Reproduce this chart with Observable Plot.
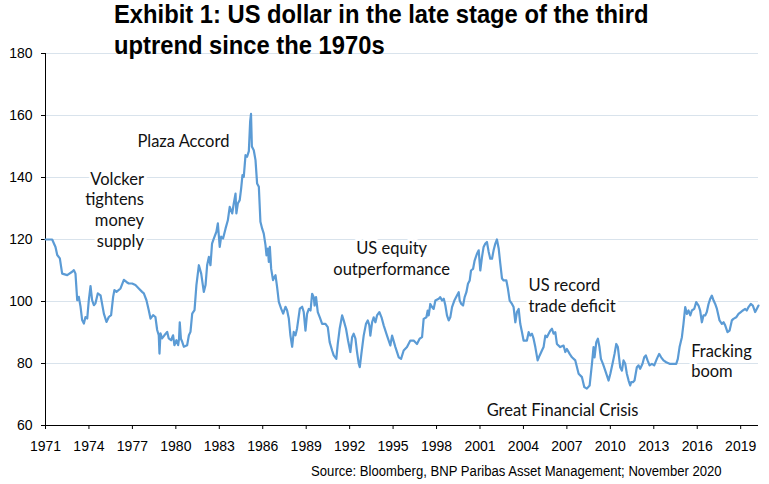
<!DOCTYPE html>
<html><head><meta charset="utf-8">
<script src="https://cdn.jsdelivr.net/npm/d3@7"></script>
<script src="https://cdn.jsdelivr.net/npm/@observablehq/plot@0.6"></script>
<style>
body{margin:0;background:#fff;}
#wrap{position:relative;width:769px;height:484px;overflow:hidden;background:#fff;}
#title{position:absolute;left:114px;top:-1px;font-family:"Liberation Sans",Arial,sans-serif;font-weight:bold;font-size:25px;line-height:31px;color:#000;transform:scaleX(0.95);transform-origin:0 0;white-space:nowrap;}
#caption{position:absolute;right:47px;top:463px;font-family:"Liberation Sans",Arial,sans-serif;font-size:14px;line-height:17px;color:#000;white-space:nowrap;transform:scaleX(0.936);transform-origin:100% 0;}
</style></head>
<body>
<div id="wrap">
  <div id="chart"></div>
  <div id="title">Exhibit 1: US dollar in the late stage of the third<br>uptrend since the 1970s</div>
  <div id="caption">Source: Bloomberg, BNP Paribas Asset Management; November 2020</div>
</div>
<script>
// ---- data ----
const years = [
  1971.00,1971.46,1971.69,1971.81,1971.99,1972.15,1972.50,1972.84,1972.96,1973.07,
  1973.19,1973.30,1973.42,1973.53,1973.65,1973.76,1973.88,1973.99,1974.11,1974.22,
  1974.34,1974.45,1974.61,1974.80,1975.03,1975.21,1975.37,1975.53,1975.67,1975.76,
  1975.90,1976.18,1976.41,1976.59,1976.75,1976.98,1977.21,1977.44,1977.67,1977.79,
  1977.97,1978.13,1978.25,1978.43,1978.59,1978.71,1978.82,1978.87,1978.94,1979.05,
  1979.21,1979.40,1979.51,1979.67,1979.81,1979.90,1980.04,1980.16,1980.22,1980.27,
  1980.35,1980.44,1980.55,1980.78,1980.90,1981.01,1981.13,1981.29,1981.42,1981.59,
  1981.75,1981.93,1982.05,1982.16,1982.28,1982.39,1982.50,1982.62,1982.80,1982.90,
  1983.03,1983.13,1983.26,1983.43,1983.59,1983.72,1983.89,1984.00,1984.12,1984.18,
  1984.28,1984.41,1984.51,1984.60,1984.69,1984.81,1984.92,1985.04,1985.13,1985.19,
  1985.25,1985.38,1985.50,1985.61,1985.73,1985.84,1985.96,1986.07,1986.19,1986.26,
  1986.35,1986.42,1986.49,1986.58,1986.71,1986.88,1986.99,1987.11,1987.27,1987.41,
  1987.57,1987.68,1987.80,1987.91,1988.03,1988.14,1988.26,1988.37,1988.56,1988.72,
  1988.83,1988.95,1989.06,1989.18,1989.30,1989.41,1989.52,1989.58,1989.68,1989.80,
  1989.94,1990.10,1990.33,1990.49,1990.62,1990.79,1990.90,1991.08,1991.18,1991.31,
  1991.48,1991.59,1991.75,1991.89,1992.05,1992.17,1992.28,1992.40,1992.51,1992.63,
  1992.70,1992.81,1992.97,1993.13,1993.25,1993.36,1993.43,1993.55,1993.66,1993.78,
  1993.89,1994.05,1994.20,1994.35,1994.58,1994.81,1994.93,1995.16,1995.39,1995.55,
  1995.73,1995.96,1996.19,1996.42,1996.65,1996.83,1997.00,1997.11,1997.30,1997.39,
  1997.46,1997.57,1997.69,1997.80,1997.92,1998.15,1998.26,1998.38,1998.50,1998.61,
  1998.72,1998.84,1998.95,1999.07,1999.23,1999.41,1999.53,1999.60,1999.71,1999.83,
  1999.94,2000.06,2000.17,2000.29,2000.38,2000.52,2000.63,2000.79,2000.91,2001.02,
  2001.14,2001.25,2001.37,2001.48,2001.60,2001.71,2001.83,2001.94,2002.06,2002.17,
  2002.29,2002.40,2002.52,2002.63,2002.82,2002.93,2003.05,2003.21,2003.32,2003.44,
  2003.55,2003.67,2003.78,2003.90,2004.01,2004.24,2004.36,2004.47,2004.59,2004.70,
  2004.82,2004.98,2005.12,2005.23,2005.39,2005.51,2005.62,2005.74,2005.85,2005.97,
  2006.08,2006.20,2006.31,2006.54,2006.77,2006.89,2007.00,2007.19,2007.35,2007.58,
  2007.81,2008.04,2008.20,2008.38,2008.57,2008.73,2008.84,2008.91,2009.03,2009.14,
  2009.25,2009.35,2009.49,2009.65,2009.88,2010.00,2010.15,2010.29,2010.41,2010.52,
  2010.68,2010.80,2010.91,2011.03,2011.14,2011.26,2011.37,2011.44,2011.56,2011.67,
  2011.83,2011.95,2012.06,2012.22,2012.34,2012.45,2012.57,2012.71,2012.87,2013.03,
  2013.21,2013.37,2013.51,2013.67,2013.86,2014.09,2014.32,2014.55,2014.66,2014.78,
  2014.94,2015.05,2015.17,2015.29,2015.40,2015.52,2015.63,2015.79,2015.93,2016.09,
  2016.20,2016.32,2016.43,2016.55,2016.66,2016.78,2016.90,2017.01,2017.13,2017.24,
  2017.36,2017.54,2017.70,2017.82,2017.93,2018.09,2018.23,2018.39,2018.50,2018.69,
  2018.85,2019.01,2019.15,2019.31,2019.42,2019.54,2019.70,2019.84,2020.00,2020.11,
  2020.23
];
const values = [
  120.0,120.0,117.6,115.0,113.9,109.0,108.5,109.6,110.1,109.0,
  100.4,101.5,98.3,94.0,92.9,95.0,94.5,100.4,105.0,100.4,
  98.8,99.4,102.6,102.0,96.1,93.4,95.0,95.6,101.5,103.7,
  103.1,104.2,107.0,106.3,105.8,105.8,105.3,104.2,103.1,102.6,
  100.4,97.2,94.5,95.6,95.0,90.8,89.1,83.2,89.7,88.1,
  89.1,90.2,88.1,87.5,89.1,85.9,87.5,85.9,88.0,93.3,
  88.0,87.0,85.4,85.9,89.1,90.2,96.1,97.2,105.3,111.7,
  109.0,103.1,105.3,111.7,114.4,111.7,118.7,120.3,122.5,125.2,
  117.6,120.9,120.3,123.5,126.2,130.5,128.4,131.6,134.8,128.4,
  131.6,132.7,136.5,140.8,140.2,147.2,146.7,148.5,158.0,160.5,
  150.0,148.8,145.6,138.1,137.0,125.7,123.5,121.9,118.2,114.9,
  117.1,112.8,117.6,110.6,106.9,108.5,104.7,99.9,97.7,96.1,
  98.3,97.2,94.5,89.1,85.4,90.2,89.1,91.3,97.7,98.3,
  96.6,90.6,96.0,97.6,97.1,102.5,101.4,98.7,101.4,96.6,
  94.9,92.8,92.8,91.7,86.9,84.2,82.6,81.5,86.3,91.2,
  95.5,93.9,91.2,87.4,83.7,88.5,89.6,88.0,83.7,79.9,
  78.8,83.1,89.0,92.8,93.9,92.3,89.0,93.3,94.9,93.3,
  95.5,96.6,94.9,92.3,89.0,85.8,89.0,85.3,82.0,81.5,
  84.2,85.3,87.4,87.4,86.3,88.0,88.5,94.4,94.9,97.1,
  95.5,99.2,98.2,97.6,100.3,100.9,101.4,100.3,100.9,98.7,
  95.5,93.9,94.9,98.2,100.3,101.9,103.0,100.3,99.2,98.7,
  101.4,103.0,105.7,106.8,110.0,110.5,113.2,115.4,116.5,110.0,
  114.4,117.6,118.7,119.2,116.0,113.8,113.8,116.5,118.7,120.0,
  117.1,112.3,107.4,106.8,106.8,104.1,100.3,99.2,98.2,93.3,
  96.6,97.6,92.8,90.1,87.4,87.4,90.1,89.0,89.6,88.0,
  85.3,81.0,82.6,83.7,85.3,89.0,88.5,89.6,90.6,91.2,
  89.6,90.1,86.3,85.3,85.8,83.7,84.7,83.1,82.0,81.0,
  76.7,75.6,72.4,71.9,72.9,79.9,85.3,82.0,86.9,88.0,
  85.3,81.5,79.9,77.7,74.5,76.7,79.9,83.1,86.3,85.3,
  78.8,77.7,81.0,79.9,76.7,74.5,72.9,74.0,74.0,74.5,
  78.8,79.4,78.3,79.9,82.0,82.6,81.0,79.4,79.9,79.4,
  81.5,83.1,82.0,81.0,80.4,79.9,79.9,79.9,81.5,85.3,
  88.5,92.8,98.2,96.0,97.1,95.5,97.1,97.6,99.8,98.7,
  97.1,93.3,95.5,95.5,96.6,99.2,100.9,101.9,100.3,99.2,
  97.6,93.9,92.8,93.3,92.3,90.1,90.6,93.9,94.4,94.9,
  96.0,96.6,97.1,97.6,97.1,98.2,99.2,98.7,96.6,97.6,
  98.7
];
const xTicks = [1971,1974,1977,1980,1983,1986,1989,1992,1995,1998,2001,2004,2007,2010,2013,2016,2019];
const yTicks = [60,80,100,120,140,160,180];

// annotations (data coordinates: year, index value)
const noteLabels = ["Plaza Accord", "Volcker\ntightens\nmoney\nsupply", "US equity\noutperformance", "US record\ntrade deficit", "Fracking\nboom", "Great Financial Crisis"];
const noteYears  = [1980.52, 1977.80, 1994.90, 2004.35, 2015.58, 2006.70];
const noteValues = [149.9, 117.6, 108.6, 96.7, 75.5, 63.1];
const noteAlign  = ["middle", "end", "middle", "start", "start", "middle"];

const data = years.map((y, i) => ({year: y, value: values[i]}));
const notes = noteLabels.map((t, i) => ({label: t, year: noteYears[i], value: noteValues[i], align: noteAlign[i]}));

const noteFont = {fontFamily: "Lato, 'Open Sans', sans-serif", fontSize: 16.5, lineHeight: 1.26,
  lineAnchor: "bottom", fill: "#111", stroke: "white", strokeWidth: 6, paintOrder: "stroke"};

const chart = Plot.plot({
  width: 769,
  height: 452,
  marginLeft: 45,
  marginRight: 11,
  marginTop: 53,
  marginBottom: 27,
  style: {fontFamily: "'Liberation Sans', Arial, sans-serif", fontSize: "14px", color: "#000", background: "white", overflow: "visible"},
  x: {domain: [1971, 2020.23], label: null},
  y: {domain: [60, 180], label: null},
  marks: [
    Plot.gridY(yTicks, {stroke: "#d9e3ec", strokeOpacity: 1, strokeWidth: 1}),
    ...["middle", "end", "start"].map(a => Plot.text(notes.filter(d => d.align === a), {
      x: "year", y: "value", text: "label", textAnchor: a, ...noteFont
    })),
    Plot.ruleY([60], {stroke: "#000", strokeWidth: 1}),
    Plot.ruleX([1971], {stroke: "#000", strokeWidth: 1}),
    Plot.axisX(xTicks, {tickSize: 4, tickPadding: 12, tickFormat: d3.format("d"), stroke: "#000", label: null, fontSize: 14}),
    Plot.axisY(yTicks, {tickSize: 4, tickPadding: 9, stroke: "#000", label: null, fontSize: 14}),
    Plot.line(data, {x: "year", y: "value", stroke: "#5b9bd5", strokeWidth: 2.2, strokeLinejoin: "round"})
  ]
});
document.getElementById("chart").appendChild(chart);
</script>
</body></html>
